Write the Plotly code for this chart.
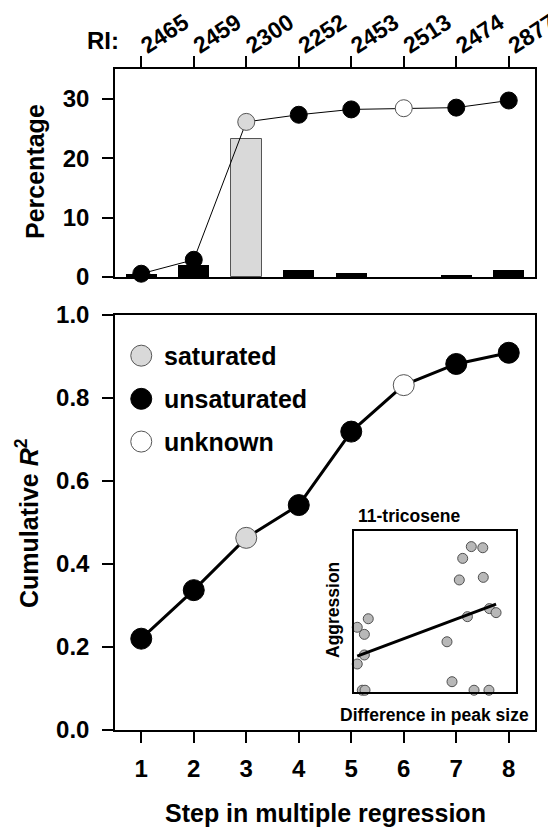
import numpy as np
import plotly.graph_objects as go

# ---------------- data ----------------
steps = [1, 2, 3, 4, 5, 6, 7, 8]
ri_labels = ["2465", "2459", "2300", "2252", "2453", "2513", "2474", "2877"]
compound_class = ["unsaturated", "unsaturated", "saturated", "unsaturated",
                  "unsaturated", "unknown", "unsaturated", "unsaturated"]
bar_percentage = [0.55, 2.1, 23.3, 1.25, 0.75, 0.0, 0.3, 1.1]
cum_percentage = [0.55, 2.9, 26.1, 27.3, 28.2, 28.4, 28.5, 29.7]
cum_r2 = [0.220, 0.337, 0.463, 0.542, 0.719, 0.831, 0.882, 0.909]

legend_labels = ["saturated", "unsaturated", "unknown"]
legend_y = [0.902, 0.798, 0.695]

# inset: 11-tricosene (relative units)
inset_x = [0.020, 0.064, 0.088, 0.064, 0.020, 0.051, 0.068, 0.574, 0.605, 0.650,
           0.671, 0.724, 0.795, 0.798, 0.700, 0.836, 0.877, 0.741, 0.833]
inset_y = [0.402, 0.358, 0.455, 0.230, 0.174, 0.011, 0.011, 0.312, 0.064, 0.696,
           0.830, 0.903, 0.896, 0.712, 0.468, 0.518, 0.493, 0.011, 0.011]

# ---------------- styles ----------------
W, H = 556, 829
OFF = 8  # page body margin
FONT = "Liberation Sans, Arial, Helvetica, sans-serif"
fill_map = {"saturated": "#d9d9d9", "unsaturated": "black", "unknown": "white"}
edge_map = {"saturated": "#555555", "unsaturated": "black", "unknown": "#555555"}
bar_edge_w = {"saturated": 1, "unsaturated": 0, "unknown": 0}


def px_x(p):
    return (p - OFF) / W


def px_y(p):
    return 1 - (p - OFF) / H


fig = go.Figure()

# top panel bars
fig.add_trace(go.Bar(
    x=steps, y=bar_percentage, width=0.59,
    marker=dict(color=[fill_map[c] for c in compound_class],
                line=dict(color=[edge_map[c] for c in compound_class],
                          width=[bar_edge_w[c] for c in compound_class])),
    xaxis="x", yaxis="y", showlegend=False, hoverinfo="skip"))

# top panel cumulative line
fig.add_trace(go.Scatter(
    x=steps, y=cum_percentage, mode="lines+markers",
    line=dict(color="black", width=1),
    marker=dict(size=17, color=[fill_map[c] for c in compound_class],
                line=dict(color=[edge_map[c] for c in compound_class], width=1)),
    cliponaxis=False, xaxis="x", yaxis="y", showlegend=False))

# bottom panel cumulative R2
fig.add_trace(go.Scatter(
    x=steps, y=cum_r2, mode="lines+markers",
    line=dict(color="black", width=3),
    marker=dict(size=21, color=[fill_map[c] for c in compound_class],
                line=dict(color=[edge_map[c] for c in compound_class], width=1)),
    cliponaxis=False, xaxis="x2", yaxis="y2", showlegend=False))

# legend markers (drawn in bottom panel)
fig.add_trace(go.Scatter(
    x=[steps[0]] * len(legend_labels), y=legend_y, mode="markers",
    marker=dict(size=21, color=[fill_map[c] for c in legend_labels],
                line=dict(color=[edge_map[c] for c in legend_labels], width=1)),
    cliponaxis=False, xaxis="x2", yaxis="y2", showlegend=False))

# inset scatter + regression line
fig.add_trace(go.Scatter(
    x=inset_x, y=inset_y, mode="markers",
    marker=dict(size=10, color="#b8b8b8", line=dict(color="#505050", width=1)),
    cliponaxis=False, xaxis="x3", yaxis="y3", showlegend=False))
slope, intercept = np.polyfit(inset_x, inset_y, 1)
lx = np.array([min(inset_x), max(inset_x)])
fig.add_trace(go.Scatter(
    x=lx, y=slope * lx + intercept, mode="lines",
    line=dict(color="black", width=3),
    cliponaxis=False, xaxis="x3", yaxis="y3", showlegend=False))

xdom = [px_x(115), px_x(535)]
tickfont = dict(family=FONT, size=24, color="black", weight="bold")
axis_common = dict(showline=True, linecolor="black", linewidth=1.5, mirror=True,
                   showgrid=False, zeroline=False, ticks="outside", ticklen=11,
                   tickwidth=1.5, tickcolor="black",
                   ticklabeloverflow="allow")

fig.update_layout(
    width=W, height=H,
    margin=dict(l=0, r=0, t=0, b=0),
    paper_bgcolor="white", plot_bgcolor="white",
    font=dict(family=FONT, color="black"),
    bargap=0,
    xaxis=dict(domain=xdom, anchor="y", side="top", range=[0.5, 8.5],
               tickvals=steps, ticktext=ri_labels, tickangle=-33,
               ticklabelstandoff=-9,
               tickfont=dict(family=FONT, size=23, color="black", weight="bold"),
               automargin=False, **axis_common),
    yaxis=dict(domain=[px_y(277), px_y(69)], anchor="x", range=[0, 35],
               tickvals=[0, 10, 20, 30], ticklabelstandoff=8, tickfont=tickfont,
               automargin=False, **axis_common),
    xaxis2=dict(domain=xdom, anchor="y2", range=[0.5, 8.5],
                tickvals=steps, ticklabelstandoff=5, tickfont=tickfont,
                automargin=False, **axis_common),
    yaxis2=dict(domain=[px_y(730), px_y(315)], anchor="x2", range=[0, 1.0],
                tickvals=[0, 0.2, 0.4, 0.6, 0.8, 1.0], tickformat=".1f",
                ticklabelstandoff=8, tickfont=tickfont,
                automargin=False, **axis_common),
    xaxis3=dict(domain=[px_x(354), px_x(516)], anchor="y3", range=[0, 1],
                showline=True, linecolor="black", linewidth=1.5, mirror=True,
                showgrid=False, zeroline=False, showticklabels=False, ticks=""),
    yaxis3=dict(domain=[px_y(692), px_y(531)], anchor="x3", range=[0, 1],
                showline=True, linecolor="black", linewidth=1.5, mirror=True,
                showgrid=False, zeroline=False, showticklabels=False, ticks=""),
)

big = dict(family=FONT, size=25, color="black", weight="bold")
small = dict(family=FONT, size=17.5, color="black", weight="bold")
ann = [
    dict(text="RI:", x=px_x(102.5), y=px_y(40), font=dict(family=FONT, size=24, color="black", weight="bold")),
    dict(text="Percentage", x=px_x(35), y=px_y(172), textangle=-90, font=big),
    dict(text="Cumulative <i>R</i><sup>2</sup>", x=px_x(27), y=px_y(523), textangle=-90, font=big),
    dict(text="Step in multiple regression", x=px_x(325), y=px_y(813), font=big),
    dict(text="11-tricosene", x=px_x(356), y=px_y(516), xanchor="left", font=small),
    dict(text="Difference in peak size", x=px_x(434), y=px_y(715), font=small),
    dict(text="Aggression", x=px_x(333), y=px_y(610), textangle=-90, font=small),
]
for a in ann:
    a.setdefault("xanchor", "center")
    fig.add_annotation(xref="paper", yref="paper", yanchor="middle", showarrow=False, **a)

for lab, ly in zip(legend_labels, legend_y):
    fig.add_annotation(xref="x2", yref="y2", x=steps[0], y=ly, xshift=21,
                       xanchor="left", yanchor="middle", showarrow=False,
                       text=lab, font=big)

fig.write_html("out.html")
